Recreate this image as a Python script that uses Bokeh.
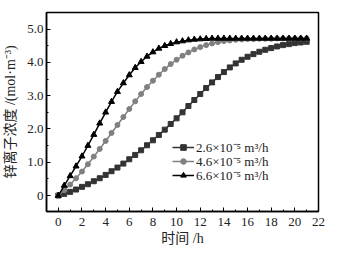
from bokeh.plotting import figure
from bokeh.models import Legend, LegendItem, FixedTicker, Range1d
from bokeh.embed import file_html
from bokeh.resources import INLINE

# time (h)
t = [i * 0.5 for i in range(43)]

# 2.6e-5 m3/h (squares)
s1 = [0.00, 0.05, 0.11, 0.18, 0.26, 0.34, 0.43, 0.52, 0.62, 0.73, 0.84, 0.96,
      1.09, 1.22, 1.36, 1.51, 1.66, 1.82, 1.98, 2.15, 2.32, 2.50, 2.69, 2.87,
      3.05, 3.23, 3.40, 3.56, 3.71, 3.85, 3.97, 4.08, 4.17, 4.25, 4.32, 4.38,
      4.43, 4.48, 4.52, 4.55, 4.58, 4.60, 4.62]
# 4.6e-5 m3/h (circles)
s2 = [0.00, 0.16, 0.33, 0.52, 0.72, 0.94, 1.17, 1.40, 1.64, 1.88, 2.12, 2.36,
      2.60, 2.83, 3.05, 3.26, 3.45, 3.63, 3.80, 3.95, 4.08, 4.20, 4.30, 4.39,
      4.46, 4.52, 4.57, 4.61, 4.64, 4.66, 4.68, 4.69, 4.70, 4.70, 4.71, 4.71,
      4.71, 4.72, 4.72, 4.72, 4.72, 4.72, 4.72]
# 6.6e-5 m3/h (triangles)
s3 = [0.00, 0.30, 0.59, 0.88, 1.18, 1.50, 1.83, 2.17, 2.50, 2.82, 3.12, 3.38,
      3.62, 3.84, 4.02, 4.18, 4.31, 4.42, 4.50, 4.56, 4.61, 4.64, 4.67, 4.69,
      4.70, 4.71, 4.72, 4.72, 4.72, 4.72, 4.72, 4.72, 4.72, 4.72, 4.72, 4.72,
      4.72, 4.72, 4.72, 4.72, 4.72, 4.72, 4.72]

series_labels = ["2.6×10⁻⁵ m³/h", "4.6×10⁻⁵ m³/h", "6.6×10⁻⁵ m³/h"]

x_ticks = list(range(0, 23, 2))
y_ticks = [0, 1, 2, 3, 4, 5]
y_tick_labels = ["0", "1.0", "2.0", "3.0", "4.0", "5.0"]

x_title = "时间 /h"
y_title = "锌离子浓度 /(mol·m⁻³)"

SERIF = "'Liberation Serif'"
MIX = "'Liberation Serif', 'Noto Sans CJK SC'"

p = figure(width=330, height=248, output_backend="svg", toolbar_location=None,
           x_range=Range1d(-1, 22), y_range=Range1d(-0.48, 5.5),
           min_border_left=43, min_border_top=12, min_border_right=12,
           min_border_bottom=35)
p.title.visible = False
p.background_fill_color = "white"
p.xgrid.visible = False
p.ygrid.visible = False
p.outline_line_color = "black"
p.outline_line_width = 1.5

r1l = p.line(t, s1, line_color="#333333", line_width=1.5)
r1m = p.scatter(t, s1, marker="square", size=5, fill_color="#333333", line_color="#333333")
r2l = p.line(t, s2, line_color="#808080", line_width=1.5)
r2m = p.scatter(t, s2, marker="circle", size=5, fill_color="#808080", line_color="#808080")
r3l = p.line(t, s3, line_color="black", line_width=1.5)
r3m = p.scatter(t, s3, marker="triangle", size=6, fill_color="black", line_color="black")

renderers = [[r1l, r1m], [r2l, r2m], [r3l, r3m]]
bottoms = [55, 41, 27]
for lab, rs, b in zip(series_labels, renderers, bottoms):
    lg = Legend(items=[LegendItem(label=lab, renderers=rs)],
                location=(126, b), padding=0, spacing=0, margin=0,
                label_height=14, glyph_height=14, glyph_width=22, label_standoff=2,
                background_fill_alpha=0, border_line_alpha=0,
                label_text_font=SERIF, label_text_font_size="13px",
                label_text_color="#222222")
    p.add_layout(lg)

for ax in (p.xaxis[0], p.yaxis[0]):
    ax.axis_line_color = "black"
    ax.axis_line_width = 1.5
    ax.major_tick_in = 4
    ax.major_tick_out = 0
    ax.minor_tick_in = 2
    ax.minor_tick_out = 0
    ax.major_tick_line_color = "black"
    ax.minor_tick_line_color = "black"
    ax.major_label_text_font = SERIF
    ax.major_label_text_font_size = "13px"
    ax.major_label_text_color = "#222222"
    ax.axis_label_text_font = MIX
    ax.axis_label_text_font_size = "14px"
    ax.axis_label_text_font_style = "normal"
    ax.axis_label_text_color = "#222222"

p.xaxis[0].ticker = FixedTicker(ticks=x_ticks, minor_ticks=list(range(1, 22, 2)))
p.yaxis[0].ticker = FixedTicker(ticks=y_ticks, minor_ticks=[0.5, 1.5, 2.5, 3.5, 4.5])
p.yaxis[0].major_label_overrides = {v: l for v, l in zip(y_ticks, y_tick_labels)}
p.xaxis[0].major_label_standoff = 6
p.yaxis[0].major_label_standoff = 3
p.xaxis[0].axis_label = x_title
p.yaxis[0].axis_label = y_title
p.xaxis[0].axis_label_standoff = 2
p.yaxis[0].axis_label_standoff = 6

open("out.html", "w").write(file_html(p, INLINE))
